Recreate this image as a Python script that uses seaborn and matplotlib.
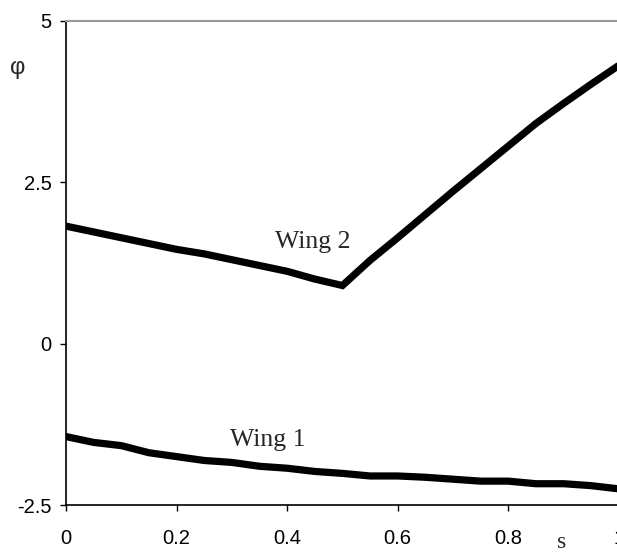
import numpy as np
import pandas as pd
import matplotlib
matplotlib.use("Agg")
import matplotlib.pyplot as plt
import seaborn as sns

# Data
s_values = [0.0, 0.05, 0.1, 0.15, 0.2, 0.25, 0.3, 0.35, 0.4, 0.45, 0.5,
            0.55, 0.6, 0.65, 0.7, 0.75, 0.8, 0.85, 0.9, 0.95, 1.0]
wing1_phi = [-1.44, -1.53, -1.58, -1.69, -1.75, -1.81, -1.84, -1.90, -1.93, -1.98, -2.01,
             -2.05, -2.05, -2.07, -2.10, -2.13, -2.13, -2.17, -2.17, -2.20, -2.25]
wing2_phi = [1.82, 1.73, 1.64, 1.55, 1.46, 1.39, 1.30, 1.21, 1.12, 1.00, 0.90,
             1.29, 1.64, 2.00, 2.36, 2.71, 3.06, 3.41, 3.72, 4.02, 4.31]
x_ticks = [0, 0.2, 0.4, 0.6, 0.8, 1.0]
x_ticklabels = ["0", "0.2", "0.4", "0.6", "0.8", "1"]
y_ticks = [-2.5, 0, 2.5, 5]
y_ticklabels = ["-2.5", "0", "2.5", "5"]

df = pd.DataFrame({
    "s": s_values * 2,
    "phi": wing1_phi + wing2_phi,
    "wing": ["Wing 1"] * len(s_values) + ["Wing 2"] * len(s_values),
})

sns.set_style("white")
plt.rcParams["font.family"] = ["Liberation Sans", "DejaVu Sans"]

fig = plt.figure(figsize=(6.17, 5.54), dpi=100)
ax = fig.add_axes([0.107, 0.0884, 0.896, 0.874])

sns.lineplot(data=df, x="s", y="phi", hue="wing", palette=["black", "black"],
             linewidth=5.2, legend=False, ax=ax, solid_joinstyle="miter")

ax.set_xlim(0, 1)
ax.set_ylim(-2.5, 5)
ax.set_xticks(x_ticks)
ax.set_xticklabels(x_ticklabels)
ax.set_yticks(y_ticks)
ax.set_yticklabels(y_ticklabels)
ax.set_xlabel("")
ax.set_ylabel("")

ax.tick_params(axis="both", direction="out", length=4.5, width=1, colors="black",
               labelsize=14.5, left=True, bottom=True)
ax.tick_params(axis="x", pad=13)
ax.tick_params(axis="y", pad=6)

for side in ["left", "bottom"]:
    ax.spines[side].set_color("black")
    ax.spines[side].set_linewidth(1.2)
ax.spines["top"].set_color("#999999")
ax.spines["top"].set_linewidth(1.5)
ax.spines["right"].set_visible(False)

serif = ["Liberation Serif", "DejaVu Serif"]
ax.text(0.447, 1.58, "Wing 2", fontsize=18.5, family=serif, ha="center", va="center")
ax.text(0.365, -1.49, "Wing 1", fontsize=18.5, family=serif, ha="center", va="center")

fig.text(18 / 617, 1 - 68 / 554, "φ", fontsize=17, family=["Liberation Sans", "DejaVu Sans"],
         ha="center", va="center")
fig.text(562 / 617, 1 - 543 / 554, "s", fontsize=17, family=serif, ha="center", va="center")

fig.savefig("out.png", dpi=100)
